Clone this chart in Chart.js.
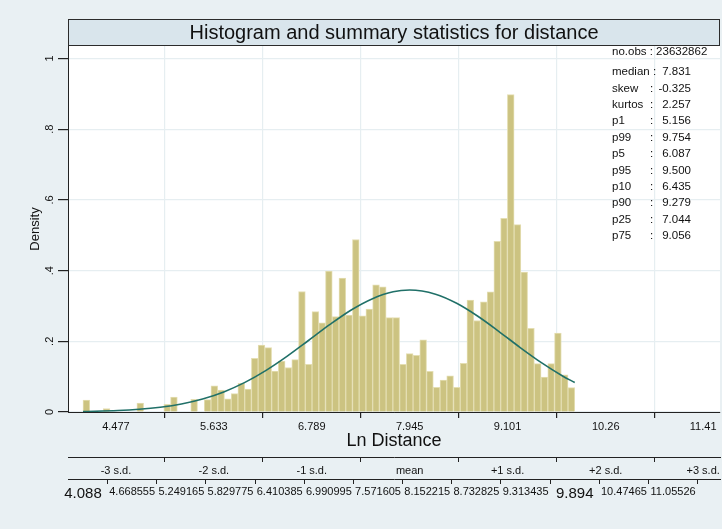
<!DOCTYPE html>
<html>
<head>
<meta charset="utf-8">
<script src="https://cdn.jsdelivr.net/npm/chart.js@4.4.1/dist/chart.umd.min.js"></script>
<style>
  html, body { margin: 0; padding: 0; background: #e9f0f3; }
  #wrap { width: 722px; height: 529px; position: relative; }
</style>
</head>
<body>
<div id="wrap"><canvas id="dist-chart"></canvas></div>
<script>
// histogram of ln distance, 73 bins between min and max
const binLow = 4.088;
const binHigh = 9.894;
const density = [
  0.034, 0, 0, 0.010, 0, 0, 0, 0, 0.025, 0, 0, 0, 0.022, 0.042, 0, 0, 0.036, 0, 0.035, 0.074,
  0.062, 0.037, 0.052, 0.081, 0.065, 0.152, 0.189, 0.182, 0.116, 0.144,
  0.126, 0.148, 0.341, 0.135, 0.284, 0.252, 0.399, 0.270, 0.379, 0.274,
  0.488, 0.272, 0.291, 0.360, 0.354, 0.267, 0.267, 0.135, 0.165, 0.160,
  0.204, 0.115, 0.070, 0.090, 0.102, 0.070, 0.138, 0.317, 0.259, 0.312,
  0.340, 0.483, 0.548, 0.898, 0.530, 0.396, 0.237, 0.137, 0.099, 0.137,
  0.223, 0.105, 0.069
];

// normal density overlay
const curveX = [4.088, 4.5, 4.75, 5.0, 5.25, 5.5, 5.75, 6.0, 6.25, 6.5, 6.75, 7.0, 7.25, 7.5, 7.75, 7.945,
  8.25, 8.5, 8.75, 9.0, 9.25, 9.5, 9.75, 9.894];
const curveY = [0.0013, 0.0041, 0.0076, 0.0135, 0.0228, 0.0369, 0.0569, 0.0838, 0.1178, 0.158, 0.2023, 0.247,
  0.288, 0.320, 0.3402, 0.345, 0.3333, 0.3075, 0.2708, 0.2276, 0.1824, 0.1397, 0.1020, 0.0833];

const xTicks = [4.477, 5.633, 6.789, 7.945, 9.101, 10.26, 11.41];
const xTickLabels = ['4.477', '5.633', '6.789', '7.945', '9.101', '10.26', '11.41'];
const sdTickLabels = ['-3 s.d.', '-2 s.d.', '-1 s.d.', 'mean', '+1 s.d.', '+2 s.d.', '+3 s.d.'];
const cutTicks = [4.088, 4.668555, 5.249165, 5.829775, 6.410385, 6.990995, 7.571605, 8.152215,
  8.732825, 9.313435, 9.894, 10.47465, 11.05526];
const cutTickLabels = ['4.088', '4.668555', '5.249165', '5.829775', '6.410385', '6.990995', '7.571605',
  '8.152215', '8.732825', '9.313435', '9.894', '10.47465', '11.05526'];
const yTicks = [0, 0.2, 0.4, 0.6, 0.8, 1];
const yTickLabels = ['0', '.2', '.4', '.6', '.8', '1'];

const statNames = ['no.obs', 'median', 'skew', 'kurtos', 'p1', 'p99', 'p5', 'p95', 'p10', 'p90', 'p25', 'p75'];
const statValues = ['23632862', '7.831', '-0.325', '2.257', '5.156', '9.754', '6.087', '9.500', '6.435', '9.279', '7.044', '9.056'];

const xMin = 3.911;
const xMax = 11.609;

const FONT = "'Liberation Sans', Arial, sans-serif";
const binWidth = (binHigh - binLow) / density.length;
const bars = density.map((d, i) => ({ x: binLow + (i + 0.5) * binWidth, y: d }));
const curve = curveX.map((x, i) => ({ x: x, y: curveY[i] }));

const frame = {
  id: 'frame',
  beforeDraw(chart) {
    const { ctx, chartArea: a } = chart;
    const t = chart.titleBlock;
    ctx.save();
    ctx.fillStyle = '#e9f0f3';
    ctx.fillRect(0, 0, chart.width, chart.height);
    ctx.fillStyle = '#ffffff';
    ctx.fillRect(a.left, a.top, a.right - a.left, a.bottom - a.top);
    ctx.fillStyle = '#d9e5ec';
    ctx.fillRect(a.left, t.top, a.right - a.left, t.bottom - t.top);
    ctx.strokeStyle = '#2b2b2b';
    ctx.lineWidth = 1;
    ctx.strokeRect(a.left + 0.5, t.top + 0.5, a.right - a.left - 1, t.bottom - t.top - 1);
    ctx.restore();
  },
  afterDraw(chart) {
    // summary statistics column, top right of the plot
    const ctx = chart.ctx;
    ctx.save();
    ctx.font = '11.5px ' + FONT;
    ctx.fillStyle = '#111';
    ctx.textBaseline = 'middle';
    statNames.forEach((name, i) => {
      const y = i === 0 ? 52 : 72 + (i - 1) * 16.4;
      ctx.textAlign = 'left';
      if (i === 0) {
        ctx.fillText(name + ' : ' + statValues[i], 612, y);
        return;
      }
      ctx.fillText(name, 612, y);
      const colonX = Math.max(650, 612 + ctx.measureText(name + ' ').width);
      ctx.fillText(':', colonX, y);
      ctx.textAlign = 'right';
      ctx.fillText(statValues[i], 691, y);
    });
    ctx.restore();
  }
};

const fixedTicks = (values) => (scale) => {
  scale.ticks = values.map((v) => ({ value: v }));
};

const ctx = document.getElementById('dist-chart').getContext('2d');
const chart = new Chart(ctx, {
  type: 'bar',
  data: {
    datasets: [
      {
        type: 'line',
        data: curve,
        borderColor: 'rgb(32, 112, 104)',
        borderWidth: 1.6,
        pointRadius: 0,
        cubicInterpolationMode: 'monotone',
        fill: false,
        order: 0,
      },
      {
        type: 'bar',
        data: bars,
        backgroundColor: 'rgb(204, 195, 129)',
        borderColor: 'rgb(228, 222, 178)',
        borderWidth: 1,
        barPercentage: 1,
        categoryPercentage: 1,
        order: 1,
      },
    ],
  },
  options: {
    responsive: true,
    maintainAspectRatio: false,
    animation: false,
    layout: { padding: { left: 20, right: 2, top: 19, bottom: 19 } },
    plugins: {
      legend: { display: false },
      tooltip: { enabled: false },
      title: {
        display: true,
        text: 'Histogram and summary statistics for distance',
        fullSize: false,
        color: '#111',
        font: { family: FONT, size: 20, weight: 'normal' },
        padding: { top: 2, bottom: 1 },
      },
    },
    scales: {
      x: {
        type: 'linear',
        position: 'bottom',
        min: xMin,
        max: xMax,
        offset: false,
        weight: 0,
        afterBuildTicks: fixedTicks(xTicks),
        afterFit: (s) => { s.height = 45; },
        grid: { color: '#e6eef1', lineWidth: 1.2, tickColor: '#222', tickLength: 6, drawOnChartArea: true },
        border: { display: true, color: '#222', width: 1 },
        ticks: {
          autoSkip: false, maxRotation: 0, minRotation: 0, padding: 2, color: '#111',
          font: { family: FONT, size: 11 },
          callback: (v, i) => xTickLabels[i],
        },
        title: {
          display: true, text: 'Ln Distance', color: '#111',
          font: { family: FONT, size: 18 }, padding: { top: 0, bottom: 5 },
        },
      },
      xSd: {
        type: 'linear',
        axis: 'x',
        position: 'bottom',
        min: xMin,
        max: xMax,
        offset: false,
        weight: 1,
        afterBuildTicks: fixedTicks(xTicks),
        afterFit: (s) => { s.height = 22; },
        grid: { drawOnChartArea: false, tickColor: '#222', tickLength: 5 },
        border: { display: true, color: '#222', width: 1 },
        ticks: {
          autoSkip: false, maxRotation: 0, minRotation: 0, padding: 2, color: '#111',
          font: { family: FONT, size: 11 },
          callback: (v, i) => sdTickLabels[i],
        },
      },
      xCut: {
        type: 'linear',
        axis: 'x',
        position: 'bottom',
        min: xMin,
        max: xMax,
        offset: false,
        weight: 2,
        afterBuildTicks: fixedTicks(cutTicks),
        afterFit: (s) => { s.height = 31; },
        grid: { drawOnChartArea: false, tickColor: '#222', tickLength: 5 },
        border: { display: true, color: '#222', width: 1 },
        ticks: {
          autoSkip: false, maxRotation: 0, minRotation: 0, padding: 1, color: '#111',
          font: (c) => ({ family: FONT, size: (c.index === 0 || c.index === 10) ? 15 : 11 }),
          callback: (v, i) => cutTickLabels[i],
        },
      },
      y: {
        type: 'linear',
        min: 0,
        max: 1.0355,
        afterBuildTicks: fixedTicks(yTicks),
        afterFit: (s) => { s.width = 48; },
        grid: { color: '#e6eef1', lineWidth: 1.2, tickColor: '#222', tickLength: 10 },
        border: { display: true, color: '#222', width: 1 },
        ticks: {
          minRotation: 90, maxRotation: 90, crossAlign: 'center', padding: 3, color: '#111',
          font: { family: FONT, size: 11 },
          callback: (v, i) => yTickLabels[i],
        },
        title: {
          display: true, text: 'Density', color: '#111',
          font: { family: FONT, size: 13 }, padding: { top: 8, bottom: 0 },
        },
      },
    },
  },
  plugins: [frame],
});
</script>
</body>
</html>
